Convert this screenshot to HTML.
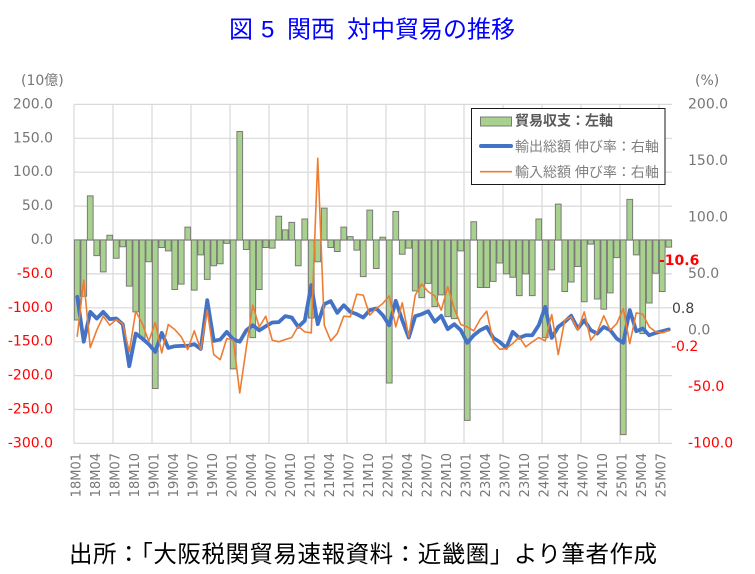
<!DOCTYPE html>
<html>
<head>
<meta charset="utf-8">
<style>
  html,body{margin:0;padding:0;background:#fff;}
  body{width:755px;height:574px;overflow:hidden;}
  svg{display:block;}
  .b rect{vector-effect:non-scaling-stroke;}
  .ln{vector-effect:non-scaling-stroke;}
  .ax{font-family:"DejaVu Sans","Noto Sans CJK JP",sans-serif;font-size:14px;fill:#767676;}
  .xl{font-family:"DejaVu Sans",sans-serif;font-size:13px;fill:#767676;}
  .red{fill:#ff0000;}
  .lg{font-family:"Liberation Sans","Noto Sans CJK JP",sans-serif;font-size:14px;fill:#7f7f7f;}
</style>
</head>
<body>
<svg width="755" height="574" viewBox="0 0 755 574" xmlns="http://www.w3.org/2000/svg">
  <rect x="0" y="0" width="755" height="574" fill="#fff"/>

  <!-- Title -->
  <g font-family="'Liberation Sans','Noto Sans CJK JP',sans-serif" font-size="24" fill="#0000ff">
    <text x="229" y="37.5">図</text>
    <text x="261" y="37.5">5</text>
    <text x="287" y="37.5">関西</text>
    <text x="347" y="37.5">対中貿易の推移</text>
  </g>

  <!-- Gridlines -->
  <g stroke="#d9d9d9" stroke-width="1.2">
    <line x1="74" y1="104.4" x2="672" y2="104.4"/>
    <line x1="74" y1="138.3" x2="672" y2="138.3"/>
    <line x1="74" y1="172.2" x2="672" y2="172.2"/>
    <line x1="74" y1="206.1" x2="672" y2="206.1"/>
    <line x1="74" y1="273.9" x2="672" y2="273.9"/>
    <line x1="74" y1="307.8" x2="672" y2="307.8"/>
    <line x1="74" y1="341.7" x2="672" y2="341.7"/>
    <line x1="74" y1="375.6" x2="672" y2="375.6"/>
    <line x1="74" y1="409.5" x2="672" y2="409.5"/>
    <line x1="74" y1="443.4" x2="672" y2="443.4"/>
    <line x1="74" y1="104.4" x2="74" y2="443.4"/>
    <line x1="113" y1="104.4" x2="113" y2="443.4"/>
    <line x1="152" y1="104.4" x2="152" y2="443.4"/>
    <line x1="191" y1="104.4" x2="191" y2="443.4"/>
    <line x1="230" y1="104.4" x2="230" y2="443.4"/>
    <line x1="269" y1="104.4" x2="269" y2="443.4"/>
    <line x1="308" y1="104.4" x2="308" y2="443.4"/>
    <line x1="347" y1="104.4" x2="347" y2="443.4"/>
    <line x1="386" y1="104.4" x2="386" y2="443.4"/>
    <line x1="425" y1="104.4" x2="425" y2="443.4"/>
    <line x1="464" y1="104.4" x2="464" y2="443.4"/>
    <line x1="503" y1="104.4" x2="503" y2="443.4"/>
    <line x1="542" y1="104.4" x2="542" y2="443.4"/>
    <line x1="581" y1="104.4" x2="581" y2="443.4"/>
    <line x1="620" y1="104.4" x2="620" y2="443.4"/>
    <line x1="659" y1="104.4" x2="659" y2="443.4"/>
  </g>
  <line x1="74" y1="240" x2="672" y2="240" stroke="#bfbfbf" stroke-width="1.5"/>

  <!-- Bars -->
  <g class="b" transform="translate(74,240) scale(6.5,-0.678)" fill="#a9d18e" stroke="#7a7a7a" stroke-width="1">
    <rect x="0.06" y="-118" width="0.88" height="118"/>
    <rect x="1.06" y="-83" width="0.88" height="83"/>
    <rect x="2.06" y="0" width="0.88" height="65"/>
    <rect x="3.06" y="-23" width="0.88" height="23"/>
    <rect x="4.06" y="-47" width="0.88" height="47"/>
    <rect x="5.06" y="0" width="0.88" height="7"/>
    <rect x="6.06" y="-27" width="0.88" height="27"/>
    <rect x="7.06" y="-10" width="0.88" height="10"/>
    <rect x="8.06" y="-68" width="0.88" height="68"/>
    <rect x="9.06" y="-106" width="0.88" height="106"/>
    <rect x="10.06" y="-145" width="0.88" height="145"/>
    <rect x="11.06" y="-32" width="0.88" height="32"/>
    <rect x="12.06" y="-219" width="0.88" height="219"/>
    <rect x="13.06" y="-11" width="0.88" height="11"/>
    <rect x="14.06" y="-16" width="0.88" height="16"/>
    <rect x="15.06" y="-73" width="0.88" height="73"/>
    <rect x="16.06" y="-65" width="0.88" height="65"/>
    <rect x="17.06" y="0" width="0.88" height="19"/>
    <rect x="18.06" y="-74" width="0.88" height="74"/>
    <rect x="19.06" y="-22" width="0.88" height="22"/>
    <rect x="20.06" y="-58" width="0.88" height="58"/>
    <rect x="21.06" y="-38" width="0.88" height="38"/>
    <rect x="22.06" y="-35" width="0.88" height="35"/>
    <rect x="23.06" y="-5" width="0.88" height="5"/>
    <rect x="24.06" y="-190" width="0.88" height="190"/>
    <rect x="25.06" y="0" width="0.88" height="160"/>
    <rect x="26.06" y="-14" width="0.88" height="14"/>
    <rect x="27.06" y="-144" width="0.88" height="144"/>
    <rect x="28.06" y="-73" width="0.88" height="73"/>
    <rect x="29.06" y="-11" width="0.88" height="11"/>
    <rect x="30.06" y="-12" width="0.88" height="12"/>
    <rect x="31.06" y="0" width="0.88" height="35"/>
    <rect x="32.06" y="0" width="0.88" height="15"/>
    <rect x="33.06" y="0" width="0.88" height="26"/>
    <rect x="34.06" y="-38" width="0.88" height="38"/>
    <rect x="35.06" y="0" width="0.88" height="31"/>
    <rect x="36.06" y="-115" width="0.88" height="115"/>
    <rect x="37.06" y="-32" width="0.88" height="32"/>
    <rect x="38.06" y="0" width="0.88" height="47"/>
    <rect x="39.06" y="-11" width="0.88" height="11"/>
    <rect x="40.06" y="-17" width="0.88" height="17"/>
    <rect x="41.06" y="0" width="0.88" height="19"/>
    <rect x="42.06" y="0" width="0.88" height="5"/>
    <rect x="43.06" y="-15" width="0.88" height="15"/>
    <rect x="44.06" y="-54" width="0.88" height="54"/>
    <rect x="45.06" y="0" width="0.88" height="44"/>
    <rect x="46.06" y="-42" width="0.88" height="42"/>
    <rect x="47.06" y="0" width="0.88" height="4"/>
    <rect x="48.06" y="-211" width="0.88" height="211"/>
    <rect x="49.06" y="0" width="0.88" height="42"/>
    <rect x="50.06" y="-21" width="0.88" height="21"/>
    <rect x="51.06" y="-12" width="0.88" height="12"/>
    <rect x="52.06" y="-75" width="0.88" height="75"/>
    <rect x="53.06" y="-85" width="0.88" height="85"/>
    <rect x="54.06" y="-64" width="0.88" height="64"/>
    <rect x="55.06" y="-98" width="0.88" height="98"/>
    <rect x="56.06" y="-81" width="0.88" height="81"/>
    <rect x="57.06" y="-113" width="0.88" height="113"/>
    <rect x="58.06" y="-116" width="0.88" height="116"/>
    <rect x="59.06" y="-16" width="0.88" height="16"/>
    <rect x="60.06" y="-266" width="0.88" height="266"/>
    <rect x="61.06" y="0" width="0.88" height="27"/>
    <rect x="62.06" y="-70" width="0.88" height="70"/>
    <rect x="63.06" y="-70" width="0.88" height="70"/>
    <rect x="64.06" y="-61" width="0.88" height="61"/>
    <rect x="65.06" y="-34" width="0.88" height="34"/>
    <rect x="66.06" y="-50" width="0.88" height="50"/>
    <rect x="67.06" y="-55" width="0.88" height="55"/>
    <rect x="68.06" y="-82" width="0.88" height="82"/>
    <rect x="69.06" y="-50" width="0.88" height="50"/>
    <rect x="70.06" y="-82" width="0.88" height="82"/>
    <rect x="71.06" y="0" width="0.88" height="31"/>
    <rect x="72.06" y="-144" width="0.88" height="144"/>
    <rect x="73.06" y="-44" width="0.88" height="44"/>
    <rect x="74.06" y="0" width="0.88" height="53"/>
    <rect x="75.06" y="-76" width="0.88" height="76"/>
    <rect x="76.06" y="-62" width="0.88" height="62"/>
    <rect x="77.06" y="-39" width="0.88" height="39"/>
    <rect x="78.06" y="-91" width="0.88" height="91"/>
    <rect x="79.06" y="-6" width="0.88" height="6"/>
    <rect x="80.06" y="-87" width="0.88" height="87"/>
    <rect x="81.06" y="-102" width="0.88" height="102"/>
    <rect x="82.06" y="-78" width="0.88" height="78"/>
    <rect x="83.06" y="-26" width="0.88" height="26"/>
    <rect x="84.06" y="-287" width="0.88" height="287"/>
    <rect x="85.06" y="0" width="0.88" height="60"/>
    <rect x="86.06" y="-22" width="0.88" height="22"/>
    <rect x="87.06" y="-138" width="0.88" height="138"/>
    <rect x="88.06" y="-93" width="0.88" height="93"/>
    <rect x="89.06" y="-49" width="0.88" height="49"/>
    <rect x="90.06" y="-76" width="0.88" height="76"/>
    <rect x="91.06" y="-10.6" width="0.88" height="10.6"/>
  </g>

  <!-- Lines -->
  <g transform="translate(77.25,330.4) scale(6.5,-1.13)" fill="none" stroke-linejoin="round" stroke-linecap="round">
    <polyline class="ln" stroke="#4472c4" stroke-width="3.8" points="0,29.7 1,-10 2,16.4 3,10.5 4,16.4 5,10 6,10.5 7,5.5 8,-31.7 9,-2.8 10,-7.2 11,-12.2 12,-19 13,-2.2 14,-15.5 15,-14 16,-13.7 17,-13.7 18,-12.2 19,-16.4 20,26.8 21,-9.3 22,-8.1 23,-1.3 24,-8 25,-10 26,0 27,4.6 28,0 29,3.7 30,7 31,7.3 32,12.6 33,11.4 34,3.1 35,8.5 36,40 37,5.5 38,23.2 39,25.9 40,15.5 41,22.3 42,16.4 43,14.4 44,11.4 45,17.9 46,19.4 47,13.5 48,4.5 49,26.2 50,9 51,-6.3 52,12.6 53,14.4 54,17 55,7.6 56,12.9 57,1.1 58,5.5 59,0.2 60,-11 61,-4.3 62,0.2 63,3.1 64,-6.6 65,-10.2 66,-15.5 67,-1.3 68,-6.6 69,-4.3 70,-4.3 71,4.6 72,20.9 73,-6.6 74,3.1 75,7.6 76,12.9 77,1.7 78,9 79,0.2 80,-2.8 81,3.1 82,0.2 83,-7.3 84,-11 85,17.9 86,-0.7 87,1.7 88,-4.3 89,-2.2 90,-0.7 91,0.8"/>
    <polyline class="ln" stroke="#ed7d31" stroke-width="1.6" points="0,-5.1 1,44.5 2,-15.2 3,0.2 4,12.6 5,4.6 6,9.6 7,6.1 8,-19 9,17 10,6.1 11,-9.6 12,7 13,-20 14,5.2 15,0.8 16,-5.7 17,-17 18,-0.4 19,-17 20,17.9 21,-21.4 22,-25.9 23,-7.2 24,-8.7 25,-55.4 26,-15.5 27,22.3 28,3.1 29,12.6 30,-8.7 31,-10 32,-8.1 33,-6.3 34,3.7 35,-1.3 36,-2.2 37,152.3 38,4.6 39,-9.3 40,-2.8 41,12.6 42,12 43,32 44,31.2 45,13.5 46,19.4 47,23.8 48,30.5 49,3.1 50,24.4 51,-5.7 52,31.2 53,41 54,34.2 55,30.6 56,17.9 57,38.6 58,19.4 59,5.2 60,3.1 61,-0.4 62,9.9 63,17 64,-10.2 65,-16.7 66,-16.1 67,-11.6 68,-5.7 69,-14.6 70,-10.2 71,-6.3 72,-9.3 73,14 74,-21.4 75,9 76,12 77,0.2 78,16.4 79,-8.7 80,-1.3 81,12.9 82,0.2 83,6 84,19.4 85,-11.7 86,15.5 87,14.4 88,3.1 89,-1.3 90,-2.2 91,-0.2"/>
  </g>

  <!-- Left axis labels -->
  <text class="ax" x="21" y="85">(10億)</text>
  <g class="ax" text-anchor="end">
    <text x="53" y="108.4">200.0</text>
    <text x="53" y="142.3">150.0</text>
    <text x="53" y="176.2">100.0</text>
    <text x="53" y="210.1">50.0</text>
    <text x="53" y="244">0.0</text>
    <text x="53" y="277.9" class="red">-50.0</text>
    <text x="53" y="311.8" class="red">-100.0</text>
    <text x="53" y="345.7" class="red">-150.0</text>
    <text x="53" y="379.6" class="red">-200.0</text>
    <text x="53" y="413.5" class="red">-250.0</text>
    <text x="53" y="447.4" class="red">-300.0</text>
  </g>

  <!-- Right axis labels -->
  <text class="ax" x="695" y="85">(%)</text>
  <g class="ax">
    <text x="688" y="108.4">200.0</text>
    <text x="688" y="164.9">150.0</text>
    <text x="688" y="221.4">100.0</text>
    <text x="688" y="277.9">50.0</text>
    <text x="688" y="334.4">0.0</text>
    <text x="688" y="390.9" class="red">-50.0</text>
    <text x="688" y="447.4" class="red">-100.0</text>
  </g>

  <!-- X axis labels -->
  <g class="xl" text-anchor="end">
    <text transform="translate(80.45,453) rotate(-90)">18M01</text>
    <text transform="translate(99.95,453) rotate(-90)">18M04</text>
    <text transform="translate(119.45,453) rotate(-90)">18M07</text>
    <text transform="translate(138.95,453) rotate(-90)">18M10</text>
    <text transform="translate(158.45,453) rotate(-90)">19M01</text>
    <text transform="translate(177.95,453) rotate(-90)">19M04</text>
    <text transform="translate(197.45,453) rotate(-90)">19M07</text>
    <text transform="translate(216.95,453) rotate(-90)">19M10</text>
    <text transform="translate(236.45,453) rotate(-90)">20M01</text>
    <text transform="translate(255.95,453) rotate(-90)">20M04</text>
    <text transform="translate(275.45,453) rotate(-90)">20M07</text>
    <text transform="translate(294.95,453) rotate(-90)">20M10</text>
    <text transform="translate(314.45,453) rotate(-90)">21M01</text>
    <text transform="translate(333.95,453) rotate(-90)">21M04</text>
    <text transform="translate(353.45,453) rotate(-90)">21M07</text>
    <text transform="translate(372.95,453) rotate(-90)">21M10</text>
    <text transform="translate(392.45,453) rotate(-90)">22M01</text>
    <text transform="translate(411.95,453) rotate(-90)">22M04</text>
    <text transform="translate(431.45,453) rotate(-90)">22M07</text>
    <text transform="translate(450.95,453) rotate(-90)">22M10</text>
    <text transform="translate(470.45,453) rotate(-90)">23M01</text>
    <text transform="translate(489.95,453) rotate(-90)">23M04</text>
    <text transform="translate(509.45,453) rotate(-90)">23M07</text>
    <text transform="translate(528.95,453) rotate(-90)">23M10</text>
    <text transform="translate(548.45,453) rotate(-90)">24M01</text>
    <text transform="translate(567.95,453) rotate(-90)">24M04</text>
    <text transform="translate(587.45,453) rotate(-90)">24M07</text>
    <text transform="translate(606.95,453) rotate(-90)">24M10</text>
    <text transform="translate(626.45,453) rotate(-90)">25M01</text>
    <text transform="translate(645.95,453) rotate(-90)">25M04</text>
    <text transform="translate(665.45,453) rotate(-90)">25M07</text>
  </g>

  <!-- Data annotations -->
  <text x="659" y="265" font-family="'DejaVu Sans',sans-serif" font-size="14" font-weight="bold" fill="#ff0000">-10.6</text>
  <text x="672" y="313" font-family="'DejaVu Sans',sans-serif" font-size="14" fill="#404040">0.8</text>
  <text x="671" y="351" font-family="'DejaVu Sans',sans-serif" font-size="14" fill="#ff0000">-0.2</text>

  <!-- Legend -->
  <rect x="471.5" y="108.5" width="193.5" height="76" fill="#fff" stroke="#1a1a1a" stroke-width="1"/>
  <rect x="480.5" y="117" width="31" height="9" fill="#a9d18e" stroke="#7a7a7a" stroke-width="1"/>
  <text class="lg" x="515" y="125.3" font-weight="bold" fill="#595959" style="fill:#595959">貿易収支：左軸</text>
  <line x1="481" y1="146" x2="511" y2="146" stroke="#4472c4" stroke-width="4" stroke-linecap="round"/>
  <text class="lg" x="515" y="151.3">輸出総額 伸び率：右軸</text>
  <line x1="480" y1="171.7" x2="512" y2="171.7" stroke="#ed7d31" stroke-width="1.6"/>
  <text class="lg" x="515" y="177">輸入総額 伸び率：右軸</text>

  <!-- Footer -->
  <text x="69" y="562" font-family="'Liberation Sans','Noto Sans CJK JP',sans-serif" font-size="23.5" fill="#000" textLength="588" lengthAdjust="spacing">出所：「大阪税関貿易速報資料：近畿圏」より筆者作成</text>
</svg>
</body>
</html>
